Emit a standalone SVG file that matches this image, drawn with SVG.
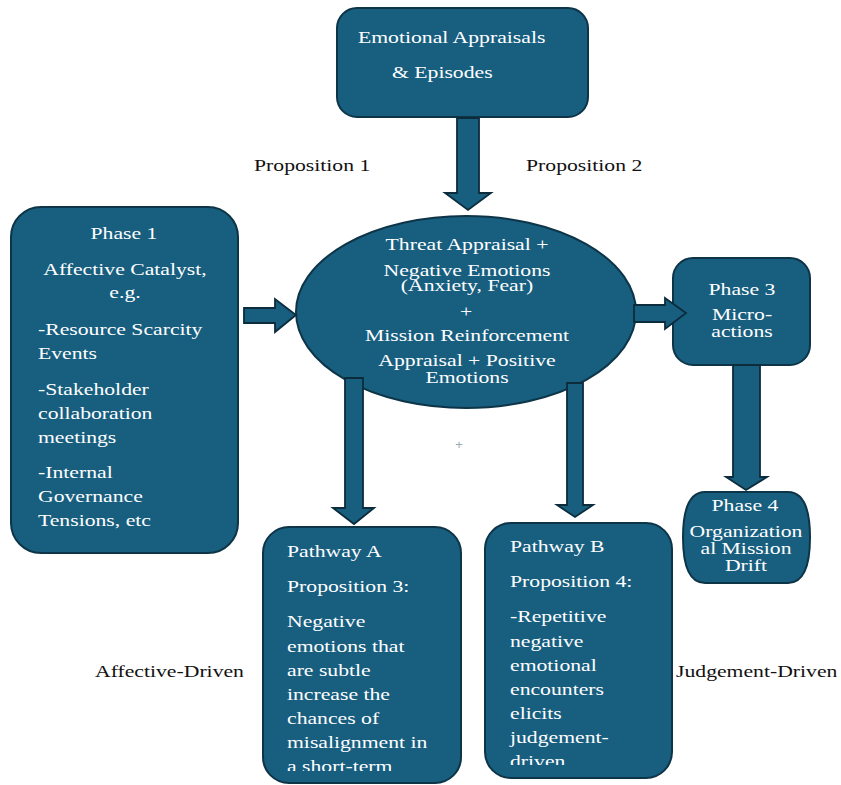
<svg xmlns="http://www.w3.org/2000/svg" width="841" height="785" viewBox="0 0 841 785">
<defs>
<style>
.node{fill:#175e7f;stroke:#0e3447;stroke-width:2}
.arr{fill:#175e7f;stroke:#0c2c3c;stroke-width:1.8;stroke-linejoin:miter}
.t{font-family:"Liberation Serif","Times New Roman","DejaVu Serif",serif;font-size:17.5px;fill:#ffffff}
.d{font-family:"Liberation Serif","Times New Roman","DejaVu Serif",serif;font-size:17.5px;fill:#111111}
.m{text-anchor:middle}
</style>
<clipPath id="clipA"><rect x="263" y="527" width="198" height="244"/></clipPath>
<clipPath id="clipB"><rect x="485" y="523" width="187" height="242"/></clipPath>
</defs>
<rect width="841" height="785" fill="#ffffff"/>

<g id="emotional-appraisals">
<rect class="node" x="337" y="8" width="251" height="109" rx="20"/>
<text class="t" transform="translate(358,43) scale(1.24,1)">Emotional Appraisals</text>
<text class="t" transform="translate(392,78) scale(1.24,1)">&amp; Episodes</text>
</g>

<g id="central-appraisal">
<ellipse class="node" cx="466" cy="312" rx="170" ry="96"/>
<text class="t m" transform="translate(467,250) scale(1.24,1)">Threat Appraisal +</text>
<text class="t m" transform="translate(467,276) scale(1.24,1)">Negative Emotions</text>
<text class="t m" transform="translate(467,291) scale(1.24,1)">(Anxiety, Fear)</text>
<text class="t m" transform="translate(466,317) scale(1.24,1)">+</text>
<text class="t m" transform="translate(467,341) scale(1.24,1)">Mission Reinforcement</text>
<text class="t m" transform="translate(467,366) scale(1.24,1)">Appraisal + Positive</text>
<text class="t m" transform="translate(467,383) scale(1.24,1)">Emotions</text>
</g>

<g id="phase1">
<rect class="node" x="11" y="207" width="227" height="346" rx="30"/>
<text class="t m" transform="translate(124,239) scale(1.24,1)">Phase 1</text>
<text class="t m" transform="translate(125,275) scale(1.24,1)">Affective Catalyst,</text>
<text class="t m" transform="translate(125,298) scale(1.24,1)">e.g.</text>
<text class="t" transform="translate(38,335) scale(1.24,1)">-Resource Scarcity</text>
<text class="t" transform="translate(38,359) scale(1.24,1)">Events</text>
<text class="t" transform="translate(38,395) scale(1.24,1)">-Stakeholder</text>
<text class="t" transform="translate(38,419) scale(1.24,1)">collaboration</text>
<text class="t" transform="translate(38,443) scale(1.24,1)">meetings</text>
<text class="t" transform="translate(38,478) scale(1.24,1)">-Internal</text>
<text class="t" transform="translate(38,502) scale(1.24,1)">Governance</text>
<text class="t" transform="translate(38,526) scale(1.24,1)">Tensions, etc</text>
</g>

<g id="phase3">
<rect class="node" x="673" y="258" width="137" height="107" rx="20"/>
<text class="t m" transform="translate(742,295) scale(1.24,1)">Phase 3</text>
<text class="t m" transform="translate(742,320) scale(1.24,1)">Micro-</text>
<text class="t m" transform="translate(742,337) scale(1.24,1)">actions</text>
</g>

<g id="phase4">
<path class="node" d="M705 492 H788 Q810 492 810 537.5 Q810 583 788 583 H705 Q683 583 683 537.5 Q683 492 705 492 Z"/>
<text class="t m" transform="translate(745,511) scale(1.24,1)">Phase 4</text>
<text class="t m" transform="translate(746,537) scale(1.24,1)">Organization</text>
<text class="t m" transform="translate(746,554) scale(1.24,1)">al Mission</text>
<text class="t m" transform="translate(746,571) scale(1.24,1)">Drift</text>
</g>

<g id="pathway-a">
<rect class="node" x="263" y="527" width="198" height="256" rx="26"/>
<g clip-path="url(#clipA)">
<text class="t" transform="translate(287,557) scale(1.24,1)">Pathway A</text>
<text class="t" transform="translate(287,592) scale(1.24,1)">Proposition 3:</text>
<text class="t" transform="translate(287,627) scale(1.24,1)">Negative</text>
<text class="t" transform="translate(287,652) scale(1.24,1)">emotions that</text>
<text class="t" transform="translate(287,676) scale(1.24,1)">are subtle</text>
<text class="t" transform="translate(287,700) scale(1.24,1)">increase the</text>
<text class="t" transform="translate(287,724) scale(1.24,1)">chances of</text>
<text class="t" transform="translate(287,748) scale(1.24,1)">misalignment in</text>
<text class="t" transform="translate(287,772) scale(1.24,1)">a short-term</text>
</g>
</g>

<g id="pathway-b">
<rect class="node" x="485" y="523" width="187" height="255" rx="26"/>
<g clip-path="url(#clipB)">
<text class="t" transform="translate(510,552) scale(1.24,1)">Pathway B</text>
<text class="t" transform="translate(510,587) scale(1.24,1)">Proposition 4:</text>
<text class="t" transform="translate(510,622) scale(1.24,1)">-Repetitive</text>
<text class="t" transform="translate(510,647) scale(1.24,1)">negative</text>
<text class="t" transform="translate(510,671) scale(1.24,1)">emotional</text>
<text class="t" transform="translate(510,695) scale(1.24,1)">encounters</text>
<text class="t" transform="translate(510,719) scale(1.24,1)">elicits</text>
<text class="t" transform="translate(510,743) scale(1.24,1)">judgement-</text>
<text class="t" transform="translate(510,767) scale(1.24,1)">driven</text>
</g>
</g>

<g id="connectors">
<polygon class="arr" points="457,118 479,118 479,193 491,193 468,210 445,193 457,193"/>
<polygon class="arr" points="244,308 275,308 275,299 296,315 275,332 275,323 244,323"/>
<polygon class="arr" points="634,305 665,305 665,298 686,313 665,329 665,322 634,322"/>
<polygon class="arr" points="345,378 363,378 363,508 374,508 354,524 333,508 345,508"/>
<polygon class="arr" points="567,383 583,383 583,505 593,505 575,517 557,505 567,505"/>
<polygon class="arr" points="733,365 760,365 760,477 767,477 746,490 726,477 733,477"/>
</g>

<g id="labels">
<text class="d" transform="translate(254,171) scale(1.24,1)">Proposition 1</text>
<text class="d" transform="translate(526,171) scale(1.24,1)">Proposition 2</text>
<text class="d" transform="translate(95,677) scale(1.24,1)">Affective-Driven</text>
<text class="d" transform="translate(676,677) scale(1.24,1)">Judgement-Driven</text>
<text x="459" y="449" font-family="Liberation Sans, sans-serif" font-size="13" fill="#9aabb3" text-anchor="middle">+</text>
</g>
</svg>
